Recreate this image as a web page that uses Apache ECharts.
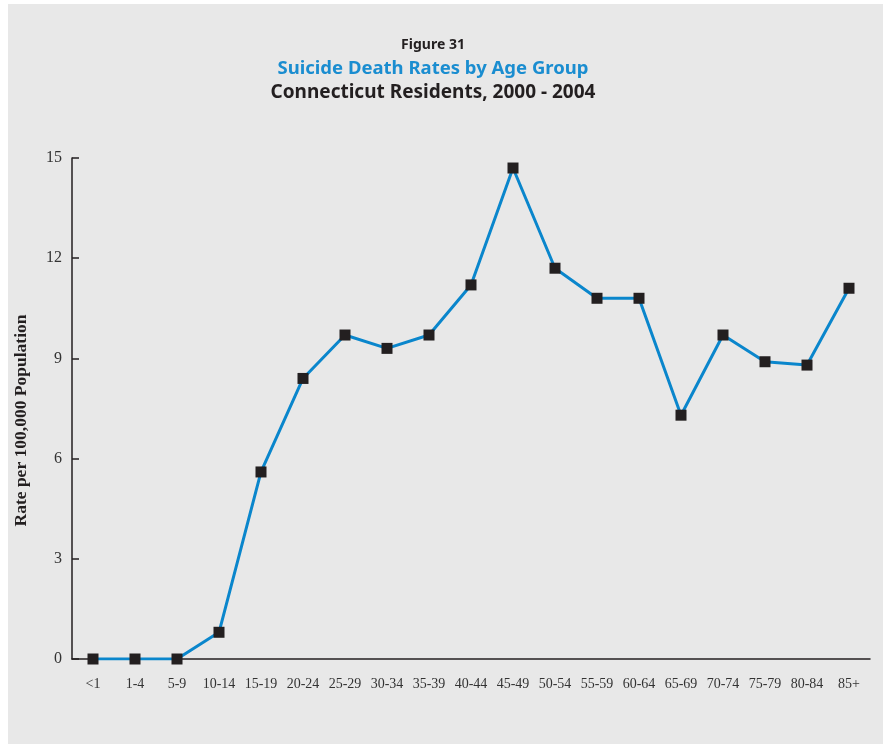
<!DOCTYPE html>
<html>
<head>
<meta charset="utf-8">
<script src="https://cdn.jsdelivr.net/npm/echarts@6/dist/echarts.min.js"></script>
<style>
html,body{margin:0;padding:0;background:#fff;overflow:hidden;}
#chart{width:883px;height:744px;}
</style>
</head>
<body>
<div id="chart"></div>
<script>
var categories = ['<1','1-4','5-9','10-14','15-19','20-24','25-29','30-34','35-39','40-44','45-49','50-54','55-59','60-64','65-69','70-74','75-79','80-84','85+'];
var rates = [0, 0, 0, 0.8, 5.6, 8.4, 9.7, 9.3, 9.7, 11.2, 14.7, 11.7, 10.8, 10.8, 7.3, 9.7, 8.9, 8.8, 11.1];
var yTicks = [0, 3, 6, 9, 12, 15];

var chart = echarts.init(document.getElementById('chart'), null, {renderer:'canvas'});
var serif = '"Liberation Serif", "DejaVu Serif", serif';
var sans = '"Noto Sans", "Open Sans", sans-serif';
chart.setOption({
  animation: false,
  graphic: [{
    type: 'rect', left: 8, top: 4, z: -10,
    shape: {width: 900, height: 760},
    style: {fill: '#e8e8e8'}
  }],
  title: [
    {text: 'Figure 31', left: 428, top: 33, textAlign: 'center',
     textStyle: {fontFamily: sans, fontWeight: 'bold', fontSize: 14, color: '#231f20'}},
    {text: 'Suicide Death Rates by Age Group', left: 428, top: 54, textAlign: 'center',
     textStyle: {fontFamily: sans, fontWeight: 'bold', fontSize: 18.5, color: '#1a8dd0'}},
    {text: 'Connecticut Residents, 2000 - 2004', left: 428, top: 78, textAlign: 'center',
     textStyle: {fontFamily: sans, fontWeight: 'bold', fontSize: 19, color: '#231f20'}}
  ],
  grid: {left: 72, right: 13, top: 158, bottom: 85, containLabel: false},
  xAxis: {
    type: 'category',
    data: categories,
    boundaryGap: true,
    axisLine: {lineStyle: {color: '#231f20', width: 1.5}},
    axisTick: {inside: true, length: 7, lineStyle: {color: '#231f20', width: 1.5}},
    axisLabel: {fontFamily: serif, fontSize: 14, color: '#333', margin: 18, interval: 0}
  },
  yAxis: {
    type: 'value',
    min: yTicks[0], max: yTicks[yTicks.length-1], interval: 3,
    name: 'Rate per 100,000 Population',
    nameLocation: 'middle',
    nameGap: 42,
    nameRotate: 90,
    nameTextStyle: {fontFamily: serif, fontWeight: 'bold', fontSize: 17.5, color: '#231f20', padding: [0, 24, 0, 0]},
    axisLine: {show: true, lineStyle: {color: '#231f20', width: 1.5}},
    axisTick: {show: true, inside: true, length: 7, lineStyle: {color: '#231f20', width: 1.5}},
    splitLine: {show: false},
    axisLabel: {fontFamily: serif, fontSize: 16, color: '#333', margin: 10}
  },
  series: [{
    type: 'line',
    data: rates,
    symbol: 'rect',
    symbolSize: 11,
    itemStyle: {color: '#231f20'},
    lineStyle: {color: '#0a86cc', width: 3},
    z: 3
  }]
});
</script>
</body>
</html>
